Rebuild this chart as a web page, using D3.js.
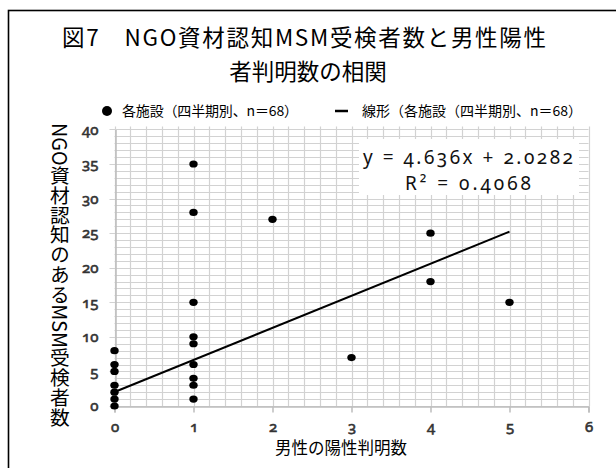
<!DOCTYPE html>
<html><head><meta charset="utf-8">
<script src="https://cdn.jsdelivr.net/npm/d3@7"></script>
<style>
html,body{margin:0;padding:0;background:#fff;}
svg{display:block;}
.num{font-family:"Noto Sans",sans-serif;font-variant-numeric:oldstyle-nums;font-feature-settings:"onum" 1;}
.jp{font-family:"Noto Sans CJK JP","Noto Sans",sans-serif;}
</style></head>
<body>
<script>
// ---- data ----
const titleLines = ["図7　NGO資材認知MSM受検者数と男性陽性", "者判明数の相関"];
const legendLabels = ["各施設（四半期別、n＝68）", "線形（各施設（四半期別、n＝68）"];
const xLabel = "男性の陽性判明数";
const yLabel = "NGO資材認知のあるMSM受検者数";
const xTicks = [0, 1, 2, 3, 4, 5, 6];
const yTicks = [0, 5, 10, 15, 20, 25, 30, 35, 40];
const pointX = [0, 0, 0, 0, 0, 0, 0, 1, 1, 1, 1, 1, 1, 1, 1, 1, 2, 3, 4, 4, 5];
const pointY = [8, 6, 5, 3, 2, 1, 0, 35, 28, 15, 10, 9, 6, 4, 3, 1, 27, 7, 25, 18, 15];
const slope = 4.636, intercept = 2.0282;
const eqText = ["y = 4.636x + 2.0282", "R² = 0.4068"];

const W = 616, H = 468;
const svg = d3.select("body").append("svg").attr("width", W).attr("height", H);
svg.append("rect").attr("width", W).attr("height", H).attr("fill", "#fff");
// outer frame
svg.append("rect").attr("x", 8.5).attr("y", 10.5).attr("width", 640).attr("height", 500)
  .attr("fill", "none").attr("stroke", "#000").attr("stroke-width", 1.6);

const x = d3.scaleLinear().domain([0, 6]).range([114.5, 588.5]);
const y = d3.scaleLinear().domain([0, 40]).range([406, 129.4]);

// title
const titleWidths = [484, null];
svg.selectAll("text.title").data(titleLines).join("text")
  .attr("class", "title jp")
  .attr("x", (d, i) => i === 0 ? 304 : 308).attr("y", (d, i) => 46 + i * 34)
  .attr("text-anchor", "middle").attr("font-size", 22.5).attr("fill", "#000")
  .each(function(d, i) { if (titleWidths[i]) d3.select(this).attr("textLength", titleWidths[i]).attr("lengthAdjust", "spacing"); })
  .text(d => d);

// legend
svg.append("circle").attr("cx", 107).attr("cy", 111).attr("r", 5).attr("fill", "#000");
svg.append("text").attr("class", "jp").attr("x", 122).attr("y", 116)
  .attr("font-size", 14).attr("textLength", 176).attr("lengthAdjust", "spacing").text(legendLabels[0]);
svg.append("line").attr("x1", 335).attr("x2", 348).attr("y1", 111).attr("y2", 111)
  .attr("stroke", "#000").attr("stroke-width", 2.5);
svg.append("text").attr("class", "jp").attr("x", 362).attr("y", 116)
  .attr("font-size", 14).text(legendLabels[1]);

// grid
const g = svg.append("g");
const vLines = d3.range(0, 31).map(i => i / 5);
const hLines = d3.range(0, 41);
g.selectAll("line.v").data(vLines).join("line")
  .attr("x1", d => Math.round(x(d)) + 0.5).attr("x2", d => Math.round(x(d)) + 0.5)
  .attr("y1", y(40) - 3).attr("y2", y(0))
  .attr("stroke", "#d2d2d2").attr("stroke-width", 1.2);
g.selectAll("line.h").data(hLines).join("line")
  .attr("x1", d => d % 5 === 0 ? x(0) - 5 : x(0)).attr("x2", x(6))
  .attr("y1", d => Math.round(y(d)) + 0.5).attr("y2", d => Math.round(y(d)) + 0.5)
  .attr("stroke", "#d2d2d2").attr("stroke-width", 1.2);

// axes
function styleTicks(sel) {
  sel.attr("class", "num").attr("font-size", 15).attr("font-weight", 400)
    .style("font-family", "'Noto Sans', sans-serif")
    .style("font-variant-numeric", "oldstyle-nums")
    .style("font-feature-settings", "'onum' 1")
    .attr("fill", "#333").attr("stroke", "#333").attr("stroke-width", 0.6);
}
const xAxis = svg.append("g").attr("transform", `translate(0,${Math.round(y(0)) + 0.5})`)
  .call(d3.axisBottom(x).tickValues(xTicks).tickSize(6).tickPadding(9).tickFormat(d3.format("d")));
xAxis.attr("font-family", null).attr("font-size", null);
xAxis.select(".domain").attr("stroke", "#bdbdbd").attr("stroke-width", 1.5);
xAxis.selectAll(".tick line").attr("stroke", "#bdbdbd").attr("stroke-width", 1.5);
styleTicks(xAxis.selectAll(".tick text"));

const yAxis = svg.append("g").attr("transform", `translate(${Math.round(x(0)) + 0.5},0)`)
  .call(d3.axisLeft(y).tickValues(yTicks).tickSize(0).tickPadding(17).tickFormat(d3.format("d")));
yAxis.attr("font-family", null).attr("font-size", null);
yAxis.select(".domain").attr("stroke", "#bdbdbd").attr("stroke-width", 1.5);
styleTicks(yAxis.selectAll(".tick text"));

// equation box
svg.append("rect").attr("x", 359).attr("y", 139).attr("width", 220).attr("height", 56).attr("fill", "#fff");
const eqW = [210, 126];
svg.selectAll("text.eq").data(eqText).join("text")
  .attr("class", "eq num").attr("font-size", 19).attr("fill", "#111")
  .attr("text-anchor", "middle")
  .attr("x", 468).attr("y", (d, i) => 164 + i * 26)
  .attr("textLength", (d, i) => eqW[i]).attr("lengthAdjust", "spacing")
  .text(d => d);

// trend line
const xs = [d3.min(pointX), d3.max(pointX)];
svg.append("line")
  .attr("x1", x(xs[0])).attr("y1", y(slope * xs[0] + intercept))
  .attr("x2", x(xs[1])).attr("y2", y(slope * xs[1] + intercept))
  .attr("stroke", "#000").attr("stroke-width", 2);

// points
svg.selectAll("ellipse.pt").data(pointX.map((d, i) => [d, pointY[i]])).join("ellipse")
  .attr("cx", d => x(d[0])).attr("cy", d => y(d[1]))
  .attr("rx", 4.2).attr("ry", 3.6).attr("fill", "#000");

// axis titles
svg.append("text").attr("class", "jp").attr("x", 341).attr("y", 454)
  .attr("text-anchor", "middle").attr("font-size", 16.5).text(xLabel);
svg.append("text").attr("class", "jp").attr("x", 60).attr("y", 123)
  .attr("font-size", 19.8).style("writing-mode", "vertical-rl").text(yLabel);
</script>
</body></html>
